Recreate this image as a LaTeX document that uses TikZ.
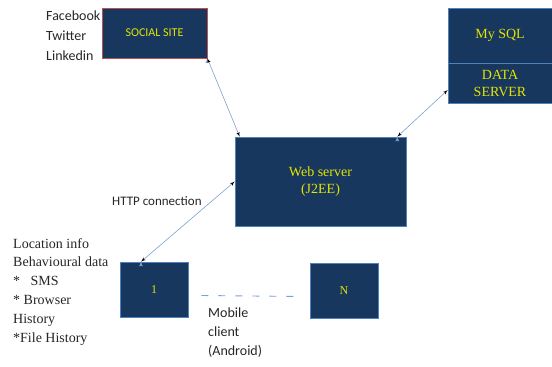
\documentclass[tikz,border=0pt]{standalone}
\usepackage{fontspec}
\setmainfont{Liberation Serif}
\newfontfamily\calibri{Carlito}
\usetikzlibrary{arrows}
\definecolor{boxnavy}{RGB}{23,55,94}
\definecolor{boxedge}{RGB}{79,129,189}
\definecolor{siteedge}{RGB}{192,80,77}
\definecolor{boxtext}{RGB}{228,228,0}
\definecolor{linkblue}{RGB}{125,160,210}
\begin{document}
\begin{tikzpicture}[x=1pt,y=-1pt]
   \tikzstyle{line} = [draw=linkblue, line width=0.6pt, latex'-latex']
   \tikzstyle{box} = [draw=boxedge, fill=boxnavy, text=boxtext, line width=0.6pt,
                      inner sep=0pt, align=center, font=\fontsize{14}{17}\selectfont]
   \tikzstyle{note} = [anchor=north west, inner sep=0pt, align=left, text=black!85]
   \useasboundingbox (0,0) rectangle (552,367);

   \node[box, draw=siteedge, minimum width=105, minimum height=50,
         font=\calibri\fontsize{12}{14}\selectfont] (social) at (154.5,33) {SOCIAL SITE};
   \node[box, minimum width=104, minimum height=55] (mysql) at (500,35.5) {My SQL};
   \node[box, minimum width=104, minimum height=40] (data) at (500,83) {DATA\\SERVER};
   \node[box, minimum width=171, minimum height=89] (web) at (320.5,181.5) {Web server\\(J2EE)};
   \node[box, minimum width=68, minimum height=55,
         font=\fontsize{12}{14}\selectfont] (c1) at (154,289.5) {1};
   \node[box, minimum width=68, minimum height=55,
         font=\fontsize{12}{14}\selectfont] (cn) at (344,290.5) {N};

   \node[note, font=\calibri\fontsize{14}{20}\selectfont] (sites) at (46,11)
        {Facebook\\Twitter\\Linkedin};
   \node[note, anchor=west, font=\calibri\fontsize{13}{16}\selectfont] (http) at (112,201)
        {HTTP connection};
   \node[note, font=\fontsize{14}{18.8}\selectfont] (info) at (13,238)
        {Location info\\Behavioural data\\*\ \ \ SMS\\* Browser\\History\\*File History};
   \node[note, font=\calibri\fontsize{14}{19}\selectfont] (mobile) at (208,308)
        {Mobile\\client\\(Android)};

   \path [line] (social.south east) edge ([xshift=5pt]web.north west);
   \path [line] ([xshift=-9pt]web.north east) edge ([yshift=-7pt]data.west);
   \path [line] ([xshift=-13pt]c1.north) edge (web.west);
   \draw [linkblue, line width=0.9pt, dash pattern=on 7pt off 10pt]
        ([xshift=13pt,yshift=-6pt]c1.east) -- ([xshift=-8pt,yshift=-6pt]cn.west);

 \end{tikzpicture}
\end{document}
